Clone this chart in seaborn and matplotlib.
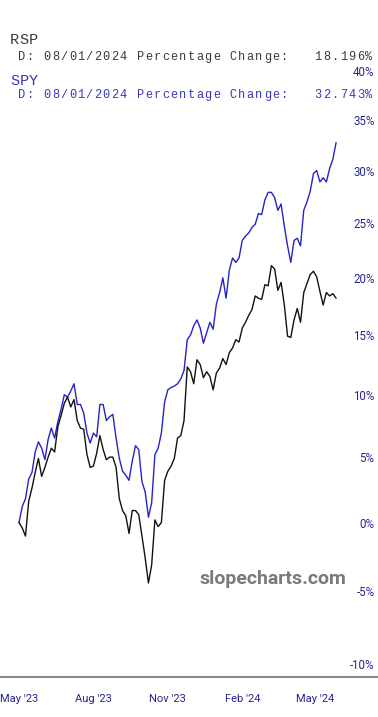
import numpy as np
import pandas as pd
import matplotlib
matplotlib.use('Agg')
import matplotlib.pyplot as plt
import matplotlib.ticker as mticker
import seaborn as sns

# Percentage change since start, sampled every 4 days from 2023-05-01
dates = pd.date_range('2023-05-01', periods=99, freq='4D')
spy = [0.0, 1.2, 1.8, 3.3, 3.8, 5.4, 6.2, 5.7, 4.8, 6.4,
       7.3, 6.5, 7.8, 8.8, 10.0, 9.8, 10.3, 10.9, 9.2, 9.2,
       8.5, 6.9, 6.1, 6.9, 6.6, 9.2, 9.2, 7.9, 8.2, 8.4,
       6.5, 4.9, 3.9, 3.6, 3.2, 4.7, 5.9, 5.6, 3.1, 2.3,
       0.4, 1.5, 5.2, 5.7, 6.9, 9.4, 10.4, 10.6, 10.7, 10.9,
       11.3, 12.0, 14.6, 15.0, 15.8, 16.3, 15.6, 14.3, 15.2, 16.1,
       15.5, 17.7, 18.7, 20.0, 18.2, 20.7, 21.8, 21.4, 21.8, 23.4,
       23.8, 24.1, 24.6, 24.9, 25.9, 25.8, 27.2, 27.9, 27.9, 27.4,
       26.2, 26.8, 24.7, 22.9, 21.4, 23.4, 23.6, 22.9, 26.2, 27.0,
       28.0, 29.7, 30.0, 28.9, 29.3, 28.9, 30.2, 31.1, 32.743]
rsp = [0.0, -0.4, -1.0, 1.6, 2.6, 3.8, 4.9, 3.5, 4.2, 5.0,
       5.7, 5.4, 7.4, 8.3, 9.3, 9.8, 9.0, 9.6, 7.9, 7.3,
       7.2, 5.2, 4.2, 4.3, 5.3, 6.7, 5.6, 4.8, 5.0, 5.0,
       4.2, 1.8, 0.9, 0.5, -0.8, 0.9, 0.9, 0.6, -1.0, -2.6,
       -4.4, -3.1, 0.2, -0.3, 0.0, 3.2, 3.9, 4.3, 4.9, 6.5,
       6.7, 7.9, 12.3, 11.9, 10.9, 12.9, 12.5, 11.4, 11.9, 11.5,
       10.4, 11.8, 12.2, 13.0, 12.5, 13.5, 13.9, 14.6, 14.4, 15.6,
       16.1, 16.7, 17.2, 18.4, 18.2, 18.1, 19.4, 19.3, 21.1, 20.8,
       18.9, 19.6, 17.6, 14.9, 14.8, 16.3, 17.3, 16.1, 18.7, 19.5,
       20.3, 20.6, 20.1, 18.8, 17.6, 18.7, 18.4, 18.6, 18.196]

ytick_pct = [-10, -5, 0, 5, 10, 15, 20, 25, 30, 35, 40]
xtick_dates = ['2023-05-01', '2023-08-01', '2023-11-01', '2024-02-01', '2024-05-01']
xtick_labels = ["May '23", "Aug '23", "Nov '23", "Feb '24", "May '24"]
header_rsp = "D: 08/01/2024 Percentage Change:   18.196%"
header_spy = "D: 08/01/2024 Percentage Change:   32.743%"

navy = '#262690'
blue = '#2424c8'

df = pd.concat([
    pd.DataFrame({'date': dates, 'pct': spy, 'ticker': 'SPY'}),
    pd.DataFrame({'date': dates, 'pct': rsp, 'ticker': 'RSP'}),
])
df['ratio'] = 1 + df['pct'] / 100

sns.set_theme(style='white')
plt.rcParams['font.family'] = ['Roboto', 'DejaVu Sans']

W, H = 378, 717
fig = plt.figure(figsize=(W / 100, H / 100), dpi=100)
ax = fig.add_axes([0, 40 / H, 1, 617 / H])

sns.lineplot(data=df, x='date', y='ratio', hue='ticker', hue_order=['SPY', 'RSP'],
             palette={'SPY': blue, 'RSP': '#111111'}, linewidth=1.0,
             estimator=None, legend=False, ax=ax)

ax.set_yscale('log')
ax.set_ylim(0.8913, 1.4116)
start = pd.Timestamp('2023-05-01')
ax.set_xlim(start - pd.Timedelta(days=23.5), start + pd.Timedelta(days=443.8))

ax.yaxis.tick_right()
ax.set_yticks([1 + p / 100 for p in ytick_pct])
ax.set_yticklabels([f'{p}%' for p in ytick_pct])
ax.yaxis.set_minor_locator(mticker.NullLocator())
ax.tick_params(axis='y', length=0, pad=-2.5, labelsize=8.3, labelcolor=navy)
for t in ax.get_yticklabels():
    t.set_ha('right')

ax.set_xticks(pd.to_datetime(xtick_dates))
ax.set_xticklabels(xtick_labels)
ax.tick_params(axis='x', length=0, pad=12.5, labelsize=8, labelcolor=navy)
ax.set_xlabel('')
ax.set_ylabel('')

for s in ['top', 'left', 'right']:
    ax.spines[s].set_visible(False)
ax.spines['bottom'].set_color('#8a8a8a')
ax.spines['bottom'].set_linewidth(1.5)


def spaced(x, y, s, pitch, size, color):
    # monospace-like header text with wide letter spacing
    for i, ch in enumerate(s):
        fig.text((x + i * pitch) / W, 1 - y / H, ch, ha='left', va='center',
                 fontsize=size, color=color, family='Liberation Mono')


spaced(10, 40, 'RSP', 9.4, 11, '#3a3a3a')
spaced(18, 57, header_rsp, 8.47, 8.6, '#3a3a3a')
spaced(10, 81, 'SPY', 9.4, 11, '#3838b8')
spaced(18, 95, header_spy, 8.47, 8.6, '#3838b8')

fig.text(273 / W, 1 - 579 / H, 'slopecharts.com', ha='center', va='center',
         fontsize=14, fontweight='bold', color='#7a7a7a')

fig.savefig('out.png', dpi=100)
